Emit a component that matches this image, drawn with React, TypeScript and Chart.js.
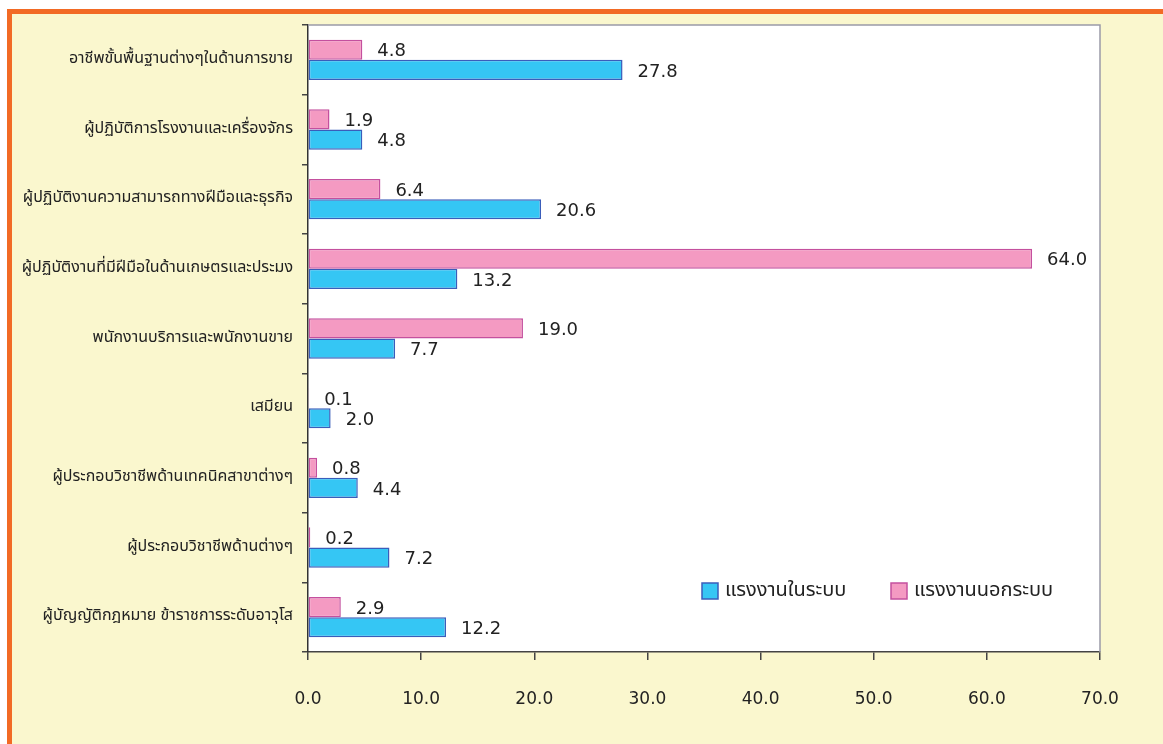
import React, { useEffect, useRef } from "react";
import { Chart, registerables } from "chart.js";

Chart.register(...registerables);

const categories = [
  "อาชีพขั้นพื้นฐานต่างๆในด้านการขาย",
  "ผู้ปฏิบัติการโรงงานและเครื่องจักร",
  "ผู้ปฏิบัติงานความสามารถทางฝีมือและธุรกิจ",
  "ผู้ปฏิบัติงานที่มีฝีมือในด้านเกษตรและประมง",
  "พนักงานบริการและพนักงานขาย",
  "เสมียน",
  "ผู้ประกอบวิชาชีพด้านเทคนิคสาขาต่างๆ",
  "ผู้ประกอบวิชาชีพด้านต่างๆ",
  "ผู้บัญญัติกฎหมาย ข้าราชการระดับอาวุโส",
];

const informalValues = [4.8, 1.9, 6.4, 64.0, 19.0, 0.1, 0.8, 0.2, 2.9];
const formalValues = [27.8, 4.8, 20.6, 13.2, 7.7, 2.0, 4.4, 7.2, 12.2];

const seriesNames = ["แรงงานนอกระบบ", "แรงงานในระบบ"];

const xTicks = [0, 10, 20, 30, 40, 50, 60, 70];

const PINK = "#F49AC2";
const PINK_BORDER = "#C4509E";
const BLUE = "#35C6F4";
const BLUE_BORDER = "#3A5DBA";
const CREAM = "#FAF7CE";
const ORANGE = "#F26A24";
const THAI_FONT = "Tahoma, 'Noto Sans Thai', 'Noto Sans', 'DejaVu Sans', sans-serif";
const NUM_FONT = "'DejaVu Sans', Tahoma, sans-serif";

const plotBgPlugin = {
  id: "plotBg",
  beforeDraw(chart: any) {
    const { ctx, chartArea } = chart;
    ctx.save();
    ctx.fillStyle = "#FFFFFF";
    ctx.fillRect(chartArea.left, chartArea.top, chartArea.right - chartArea.left, chartArea.bottom - chartArea.top);
    ctx.restore();
  },
  afterDraw(chart: any) {
    const { ctx, chartArea } = chart;
    ctx.save();
    ctx.strokeStyle = "#9B9BA8";
    ctx.lineWidth = 1.5;
    ctx.beginPath();
    ctx.moveTo(chartArea.left, chartArea.top);
    ctx.lineTo(chartArea.right, chartArea.top);
    ctx.lineTo(chartArea.right, chartArea.bottom);
    ctx.stroke();
    ctx.restore();
  },
};

const valueLabelPlugin = {
  id: "valueLabels",
  afterDatasetsDraw(chart: any) {
    const { ctx } = chart;
    ctx.save();
    ctx.font = `18px ${NUM_FONT}`;
    ctx.fillStyle = "#222222";
    ctx.textAlign = "left";
    ctx.textBaseline = "middle";
    chart.data.datasets.forEach((ds: any, di: number) => {
      const meta = chart.getDatasetMeta(di);
      meta.data.forEach((bar: any, i: number) => {
        const v = ds.data[i] as number;
        ctx.fillText(v.toFixed(1), bar.x + 15, bar.y + 2);
      });
    });
    ctx.restore();
  },
};

const legendPlugin = {
  id: "customLegend",
  afterDraw(chart: any) {
    const { ctx, chartArea } = chart;
    const items = [
      { label: seriesNames[1], fill: BLUE, border: BLUE_BORDER },
      { label: seriesNames[0], fill: PINK, border: PINK_BORDER },
    ];
    let x = chartArea.right - 398;
    const y = chartArea.bottom - 69;
    const size = 16;
    ctx.save();
    ctx.font = `20px ${THAI_FONT}`;
    ctx.textBaseline = "middle";
    ctx.textAlign = "left";
    items.forEach((it, idx) => {
      ctx.fillStyle = it.fill;
      ctx.fillRect(x, y, size, size);
      ctx.strokeStyle = it.border;
      ctx.lineWidth = 1.5;
      ctx.strokeRect(x, y, size, size);
      ctx.fillStyle = "#222222";
      ctx.fillText(it.label, x + size + 7, y + size / 2 + 1);
      x += idx === 0 ? 189 : 0;
    });
    ctx.restore();
  },
};

export default function App() {
  const canvasRef = useRef<HTMLCanvasElement | null>(null);

  useEffect(() => {
    if (!canvasRef.current) return;
    const chart = new Chart(canvasRef.current, {
      type: "bar",
      data: {
        labels: categories,
        datasets: [
          {
            label: seriesNames[0],
            data: informalValues,
            backgroundColor: PINK,
            borderColor: PINK_BORDER,
            borderWidth: 1.5,
            borderSkipped: false,
            categoryPercentage: 0.58,
            barPercentage: 1,
          },
          {
            label: seriesNames[1],
            data: formalValues,
            backgroundColor: BLUE,
            borderColor: BLUE_BORDER,
            borderWidth: 1.5,
            borderSkipped: false,
            categoryPercentage: 0.58,
            barPercentage: 1,
          },
        ],
      },
      options: {
        indexAxis: "y",
        responsive: false,
        animation: false,
        layout: { padding: { top: 25, right: 63, bottom: 0, left: 0 } },
        plugins: {
          legend: { display: false },
          tooltip: { enabled: false },
        },
        scales: {
          x: {
            min: xTicks[0],
            max: xTicks[xTicks.length - 1],
            afterBuildTicks(scale: any) {
              scale.ticks = xTicks.map((v) => ({ value: v }));
            },
            afterFit(scale: any) {
              scale.height = 92;
            },
            ticks: {
              callback: (v: any) => Number(v).toFixed(1),
              font: { family: NUM_FONT, size: 17 },
              color: "#222222",
              padding: 29,
              maxRotation: 0,
            },
            grid: {
              drawOnChartArea: false,
              tickLength: 8,
              color: "#444444",
              lineWidth: 1.5,
            },
            border: { color: "#444444", width: 1.5 },
          },
          y: {
            afterFit(scale: any) {
              scale.width = 308;
            },
            ticks: {
              font: { family: THAI_FONT, size: 16 },
              color: "#222222",
              padding: 9,
            },
            grid: {
              drawOnChartArea: false,
              tickLength: 6,
              offset: true,
              color: "#444444",
              lineWidth: 1.5,
            },
            border: { color: "#333333", width: 1.5 },
          },
        },
      },
      plugins: [plotBgPlugin, valueLabelPlugin, legendPlugin],
    });
    return () => chart.destroy();
  }, []);

  return (
    <div style={{ position: "absolute", left: 0, top: 0, width: 1163, height: 744, background: "#FFFFFF", overflow: "hidden" }}>
      <div style={{ position: "absolute", left: 7, top: 9, right: 0, bottom: 0, background: ORANGE }} />
      <div style={{ position: "absolute", left: 12, top: 14, right: 0, bottom: 0, background: CREAM }} />
      <canvas ref={canvasRef} width={1163} height={744} style={{ position: "absolute", left: 0, top: 0 }} />
    </div>
  );
}
